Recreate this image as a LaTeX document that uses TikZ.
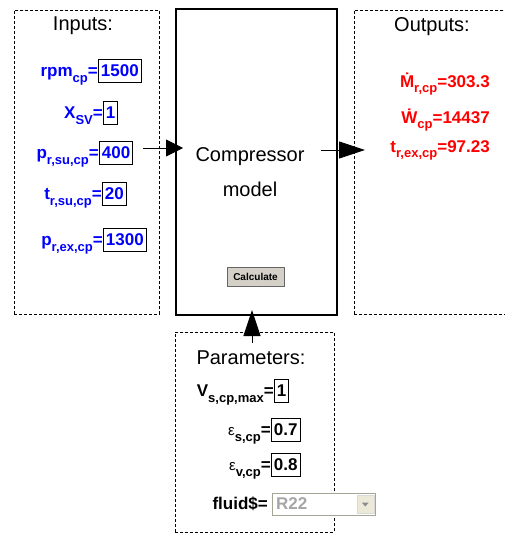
\documentclass[tikz,border=0pt]{standalone}
\usepackage{fontspec}
\setmainfont{Liberation Sans}
\usetikzlibrary{arrows.meta, positioning}

\newcommand{\lowsub}[1]{\raisebox{-0.33em}{\fontsize{13}{13}\selectfont #1}}
\newcommand{\epsl}{{\mdseries\fontsize{15}{15}\selectfont ε}}

\begin{document}
\begin{tikzpicture}[x=1pt, y=-1pt,
  panel/.style={draw=black, dash pattern=on 3pt off 2pt, line width=0.9pt,
    anchor=north west},
  title/.style={font=\fontsize{20}{22}\selectfont, inner sep=0pt},
  lbl/.style={font=\fontsize{17}{19}\selectfont\bfseries, inner sep=0pt},
  inlbl/.style={lbl, text=blue},
  outlbl/.style={lbl, text=red},
  valbox/.style={draw=black, line width=0.8pt, anchor=west,
    font=\fontsize{17}{19}\selectfont\bfseries, inner xsep=2.5pt, inner ysep=1.5pt,
    minimum height=23pt},
  invalbox/.style={valbox, text=blue},
  arr/.style={-{Triangle[length=26pt, width=17pt]}, line width=0.8pt}
]
\useasboundingbox (0,0) rectangle (505,554);
\clip (0,0) rectangle (505,554);

%% Panels
\node[panel, minimum width=145pt, minimum height=304pt] (inputs)  at (14,10)  {};
\node[draw=black, line width=2pt, anchor=north west,
  minimum width=161pt, minimum height=306pt]            (model)   at (175,8)  {};
\node[panel, minimum width=200pt, minimum height=304pt] (outputs) at (354,10) {};
\node[panel, minimum width=159pt, minimum height=200pt] (params)  at (175,332) {};

%% Titles
\node[title] (intitle)  at (83,26)   {Inputs:};
\node[title] (outtitle) at (432,27)  {Outputs:};
\node[title] (partitle) at (251,358) {Parameters:};
\node[title, align=center, font=\fontsize{20}{35}\selectfont] (modeltxt) at (250,172) {Compressor\\model};

%% Calculate button
\node[draw=black!60, fill={rgb,255:red,212;green,208;blue,200}, line width=0.8pt,
  minimum width=57pt, minimum height=19pt, inner sep=0pt,
  font=\fontsize{10}{10}\selectfont\bfseries] (calc) at (255.5,276.5) {Calculate};

%% Inputs
\node[invalbox] (rpmval) at (98,71)  {1500};
\node[invalbox] (xsvval) at (103,113) {1};
\node[invalbox] (psuval) at (99,153) {400};
\node[invalbox] (tsuval) at (102,194) {20};
\node[invalbox] (pexval) at (103,240) {1300};

\node[inlbl, base left=0pt of rpmval] (rpm) {rpm\lowsub{cp}=};
\node[inlbl, base left=0pt of xsvval] (xsv) {X\lowsub{SV}=};
\node[inlbl, base left=0pt of psuval] (psu) {p\lowsub{r,su,cp}=};
\node[inlbl, base left=0pt of tsuval] (tsu) {t\lowsub{r,su,cp}=};
\node[inlbl, base left=0pt of pexval] (pex) {p\lowsub{r,ex,cp}=};

%% Outputs
\node[outlbl, anchor=base east] (mdot) at (490,87)  {\.{M}\lowsub{r,cp}=303.3};
\node[outlbl, anchor=base east] (wdot) at (490,123) {\.{W}\lowsub{cp}=14437};
\node[outlbl, anchor=base east] (tex)  at (490,152) {t\lowsub{r,ex,cp}=97.23};

%% Parameters
\node[valbox] (vval)  at (274,391) {1};
\node[valbox] (esval) at (271,430) {0.7};
\node[valbox] (evval) at (271,465) {0.8};
\node[lbl, base left=0pt of vval]  (vlbl)  {V\lowsub{s,cp,max}=};
\node[lbl, base left=0pt of esval] (eslbl) {\epsl\lowsub{s,cp}=};
\node[lbl, base left=0pt of evval] (evlbl) {\epsl\lowsub{v,cp}=};

\node[draw={rgb,255:red,165;green,165;blue,150}, line width=1pt, fill=white,
  anchor=west, minimum width=103pt, minimum height=22pt] (fluid) at (272,504) {};
\node[anchor=west, inner sep=0pt, text=black!35,
  font=\fontsize{17}{19}\selectfont\bfseries] (r22) at ([xshift=4pt]fluid.west) {R22};
\node[fill={rgb,255:red,236;green,233;blue,216}, draw=black!15, anchor=east,
  minimum width=17pt, minimum height=18pt, inner sep=0pt] (fbtn) at ([xshift=-2pt]fluid.east) {};
\fill[black!45] (fbtn.center) ++(-3.5,-1.5) -- ++(7,0) -- ++(-3.5,4) -- cycle;
\node[lbl, left=4pt of fluid] (fluidlbl) {fluid\$=};

%% Connectors
\coordinate (inTail)  at (143,148);
\coordinate (outTail) at (321,150);
\coordinate (parTail) at (252,343);
\draw[-{Triangle[length=17pt, width=17pt]}, line width=0.8pt, shorten >=-8pt]
  (inTail) -- (inTail -| model.west);
\draw[arr, shorten >=-11pt] (outTail) -- (outTail -| outputs.west);
\draw[arr, shorten >=-6pt]  (parTail) -- (parTail |- model.south);

\end{tikzpicture}
\end{document}
